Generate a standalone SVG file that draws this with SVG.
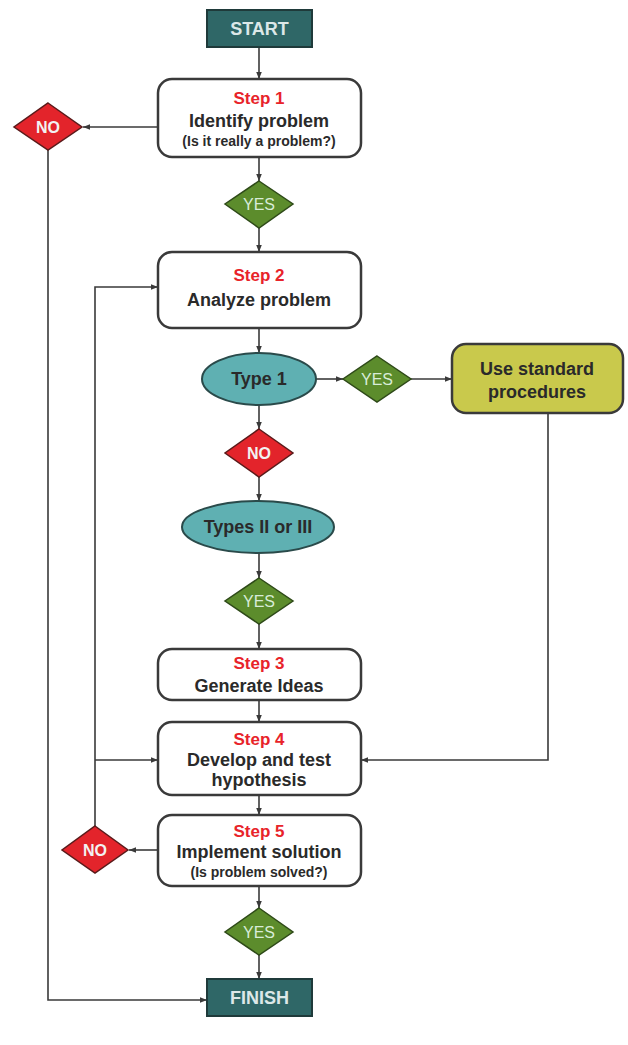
<svg xmlns="http://www.w3.org/2000/svg" width="628" height="1045" viewBox="0 0 628 1045">
<defs>
<marker id="ah" viewBox="0 0 10 10" refX="10" refY="5" markerWidth="7" markerHeight="7" markerUnits="userSpaceOnUse" orient="auto">
<path d="M0,1 L10,5 L0,9 z" fill="#3a3a3a"/>
</marker>
<style>
.term{fill:#2f6767;stroke:#1f3a3a;stroke-width:2}
.termt{font-family:"Liberation Sans",Arial,sans-serif;font-weight:bold;font-size:18px;fill:#dce8e8;text-anchor:middle}
.box{fill:#fff;stroke:#3a3a3a;stroke-width:2.5}
.step{font-family:"Liberation Sans",Arial,sans-serif;font-weight:bold;font-size:17px;fill:#e8232a;text-anchor:middle}
.main{font-family:"Liberation Sans",Arial,sans-serif;font-weight:bold;font-size:18px;fill:#2a2a2a;text-anchor:middle}
.sub{font-family:"Liberation Sans",Arial,sans-serif;font-weight:bold;font-size:14px;fill:#2a2a2a;text-anchor:middle}
.no{fill:#e3242b;stroke:#5a1a1a;stroke-width:1.5}
.yes{fill:#5c8c2c;stroke:#2e4a18;stroke-width:1.5}
.dt{font-family:"Liberation Sans",Arial,sans-serif;font-weight:bold;font-size:16px;fill:#f2f2f2;text-anchor:middle}
.yt{font-family:"Liberation Sans",Arial,sans-serif;font-size:16px;fill:#d8ecd8;text-anchor:middle}
.ell{fill:#5fb0b2;stroke:#2a4a4a;stroke-width:2}
.olive{fill:#c9c94c;stroke:#3a3a3a;stroke-width:2.5}
.ca{fill:none;stroke:#3a3a3a;stroke-width:1.6;marker-end:url(#ah)}
</style>
</defs>
<rect width="628" height="1045" fill="#fff"/>
<g id="connectors">
<path class="ca" d="M259,47 L259,79"/>
<path class="ca" d="M158,127 L83,127"/>
<path class="ca" d="M48,150 L48,1000 L207,1000"/>
<path class="ca" d="M259,157 L259,181"/>
<path class="ca" d="M259,228 L259,252"/>
<path class="ca" d="M259,328 L259,353"/>
<path class="ca" d="M316,379 L343,379"/>
<path class="ca" d="M411,379 L452,379"/>
<path class="ca" d="M259,405 L259,429"/>
<path class="ca" d="M259,477 L259,501"/>
<path class="ca" d="M259,553 L259,578"/>
<path class="ca" d="M259,624 L259,649"/>
<path class="ca" d="M259,700 L259,722"/>
<path class="ca" d="M548,413 L548,760 L361,760"/>
<path class="ca" d="M259,795 L259,815"/>
<path class="ca" d="M158,850 L129,850"/>
<path class="ca" d="M95,826 L95,287 L158,287"/>
<path class="ca" d="M95,760 L158,760"/>
<path class="ca" d="M259,886 L259,908"/>
<path class="ca" d="M259,955 L259,979"/>
</g>
<g id="start"><rect class="term" x="207" y="10" width="105" height="37"/><text class="termt" x="259.5" y="35">START</text></g>
<g id="step1"><rect class="box" x="158" y="79" width="203" height="78" rx="14"/>
<text class="step" x="259" y="104">Step 1</text><text class="main" x="259" y="127">Identify problem</text><text class="sub" x="259" y="146">(Is it really a problem?)</text></g>
<g id="no1"><polygon class="no" points="48,103 82,127 48,150 14,127"/><text class="dt" x="48" y="133">NO</text></g>
<g id="yes1"><polygon class="yes" points="259,181 293,204 259,228 225,204"/><text class="yt" x="259" y="210">YES</text></g>
<g id="step2"><rect class="box" x="158" y="252" width="203" height="76" rx="14"/>
<text class="step" x="259" y="281">Step 2</text><text class="main" x="259" y="306">Analyze problem</text></g>
<g id="type1"><ellipse class="ell" cx="259" cy="379" rx="57" ry="26"/><text class="main" x="259" y="385">Type 1</text></g>
<g id="yes2"><polygon class="yes" points="377,356 411,379 377,402 343,379"/><text class="yt" x="377" y="385">YES</text></g>
<g id="standard"><rect class="olive" x="452" y="344" width="171" height="69" rx="14"/>
<text class="main" x="537" y="375">Use standard</text><text class="main" x="537" y="398">procedures</text></g>
<g id="no2"><polygon class="no" points="259,429 293,453 259,477 225,453"/><text class="dt" x="259" y="459">NO</text></g>
<g id="types23"><ellipse class="ell" cx="258" cy="527" rx="76" ry="26"/><text class="main" x="258" y="533">Types II or III</text></g>
<g id="yes3"><polygon class="yes" points="259,578 293,601 259,624 225,601"/><text class="yt" x="259" y="607">YES</text></g>
<g id="step3"><rect class="box" x="158" y="649" width="203" height="51" rx="14"/>
<text class="step" x="259" y="669">Step 3</text><text class="main" x="259" y="692">Generate Ideas</text></g>
<g id="step4"><rect class="box" x="158" y="722" width="203" height="73" rx="14"/>
<text class="step" x="259" y="745">Step 4</text><text class="main" x="259" y="766">Develop and test</text><text class="main" x="259" y="786">hypothesis</text></g>
<g id="step5"><rect class="box" x="158" y="815" width="203" height="71" rx="14"/>
<text class="step" x="259" y="837">Step 5</text><text class="main" x="259" y="858">Implement solution</text><text class="sub" x="259" y="877">(Is problem solved?)</text></g>
<g id="no3"><polygon class="no" points="95,826 128,850 95,873 62,850"/><text class="dt" x="95" y="856">NO</text></g>
<g id="yes4"><polygon class="yes" points="259,908 293,932 259,955 225,932"/><text class="yt" x="259" y="938">YES</text></g>
<g id="finish"><rect class="term" x="207" y="979" width="105" height="37"/><text class="termt" x="259.5" y="1004">FINISH</text></g>
</svg>
